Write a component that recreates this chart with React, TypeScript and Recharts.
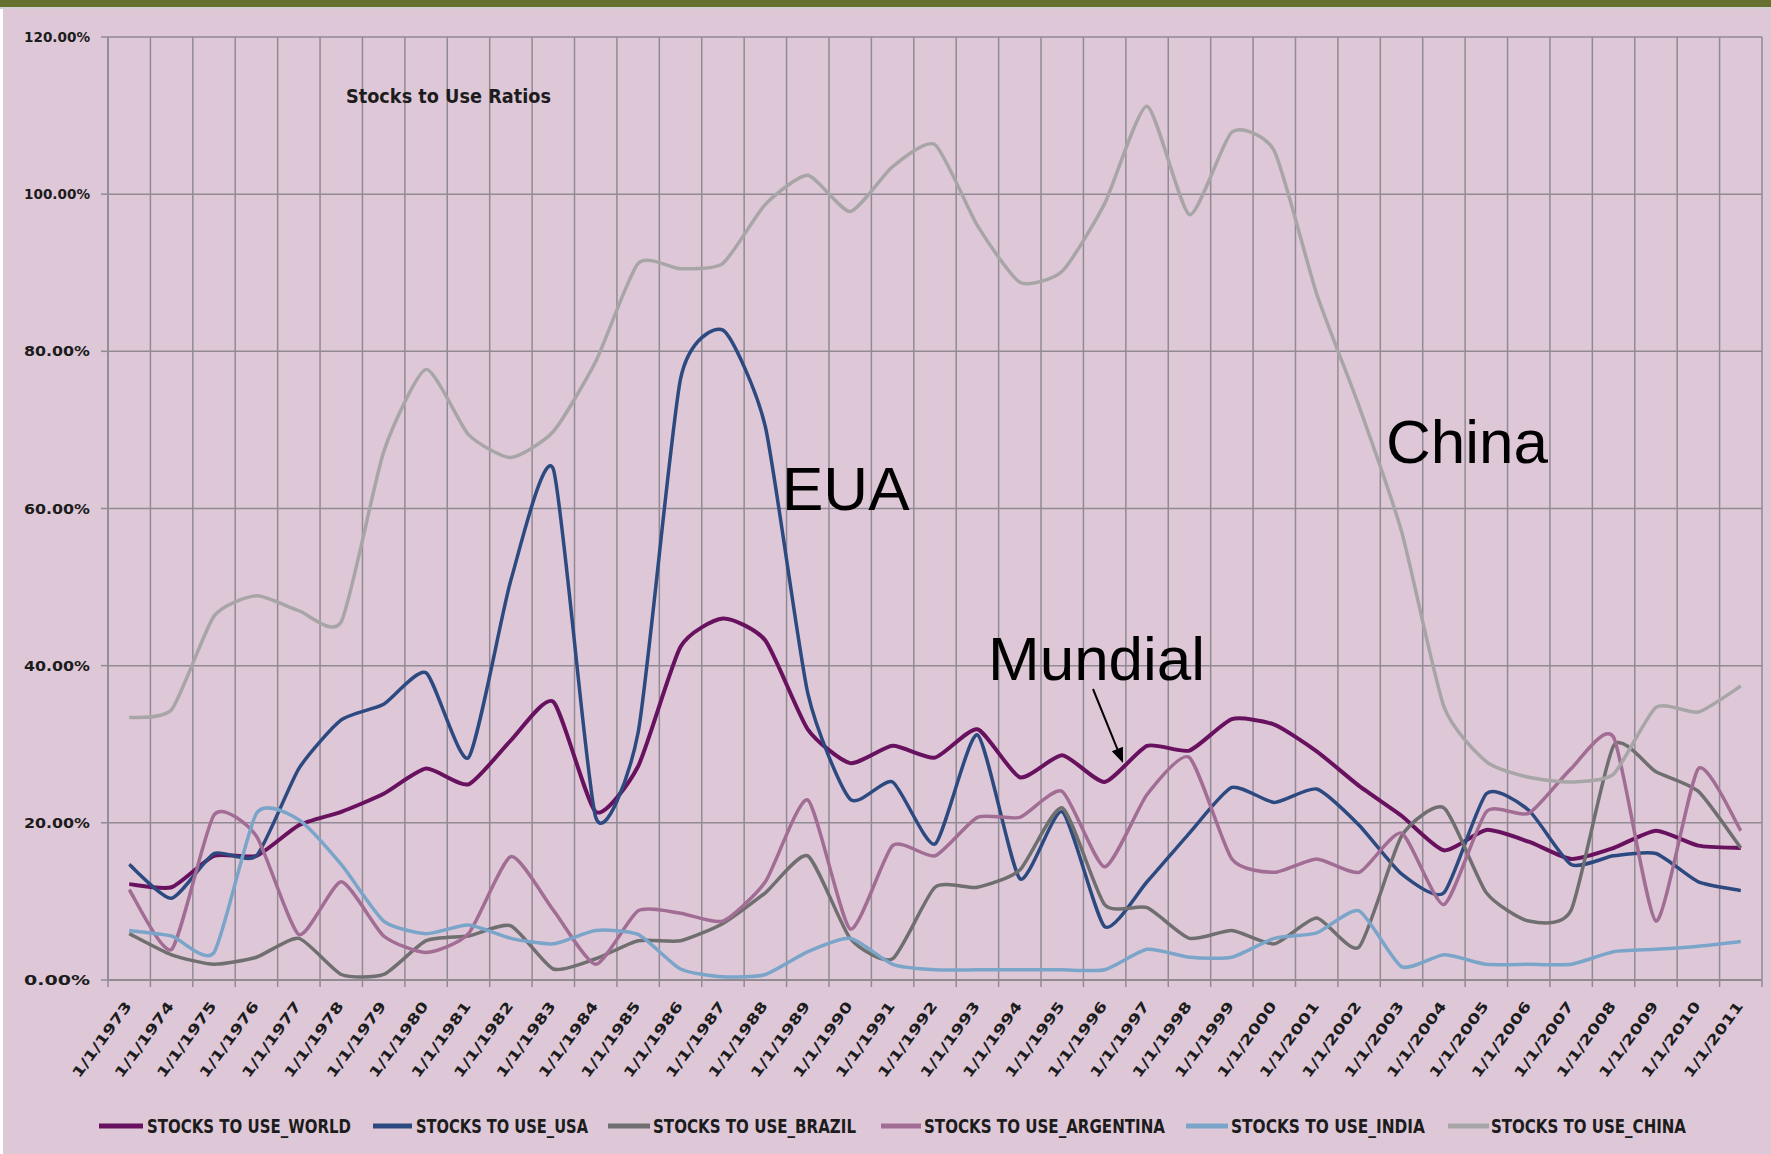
import React from 'react';
import { LineChart, Line, XAxis, YAxis, CartesianGrid } from 'recharts';

// ---------- data ----------
const years = [
  '1973', '1974', '1975', '1976', '1977', '1978', '1979', '1980', '1981', '1982',
  '1983', '1984', '1985', '1986', '1987', '1988', '1989', '1990', '1991', '1992',
  '1993', '1994', '1995', '1996', '1997', '1998', '1999', '2000', '2001', '2002',
  '2003', '2004', '2005', '2006', '2007', '2008', '2009', '2010', '2011',
];
const tickLabels = years.map((y) => `1/1/${y}`);

const world = [12.2, 11.8, 15.8, 15.8, 19.7, 21.4, 23.7, 26.9, 24.9, 30.5, 35.4, 21.4, 27.2, 42.4, 46.0, 43.2, 31.9, 27.6, 29.8, 28.3, 31.9, 25.8, 28.6, 25.2, 29.8, 29.2, 33.2, 32.5, 29.1, 24.7, 20.9, 16.5, 19.1, 17.6, 15.4, 16.8, 19.0, 17.1, 16.8];
const usa = [14.7, 10.4, 16.1, 15.8, 26.9, 33.1, 35.1, 39.1, 28.3, 50.9, 65.0, 20.7, 31.5, 76.5, 82.7, 70.4, 36.5, 23.0, 25.2, 17.3, 31.2, 12.9, 21.4, 6.8, 12.5, 18.7, 24.5, 22.6, 24.3, 19.7, 13.5, 11.1, 23.7, 21.6, 14.7, 15.8, 16.1, 12.5, 11.4];
const brazil = [5.9, 3.2, 2.0, 2.9, 5.3, 0.7, 0.7, 5.0, 5.6, 6.9, 1.4, 2.7, 5.0, 5.0, 7.2, 11.1, 15.8, 5.3, 2.7, 11.8, 11.8, 14.0, 21.9, 9.6, 9.2, 5.3, 6.3, 4.6, 7.9, 4.2, 18.3, 21.9, 11.1, 7.5, 8.9, 29.8, 26.5, 24.0, 16.8];
const argentina = [11.5, 3.9, 21.0, 18.3, 5.8, 12.5, 5.6, 3.5, 5.9, 15.7, 8.9, 2.0, 8.8, 8.5, 7.5, 12.5, 22.9, 6.5, 17.1, 15.8, 20.7, 20.7, 24.0, 14.4, 23.6, 28.3, 15.4, 13.7, 15.4, 13.7, 18.7, 9.6, 21.4, 21.2, 26.9, 30.9, 7.5, 26.9, 19.0];
const india = [6.3, 5.6, 3.5, 21.2, 20.4, 14.7, 7.5, 5.9, 7.0, 5.3, 4.6, 6.3, 5.8, 1.4, 0.4, 0.7, 3.6, 5.3, 2.0, 1.3, 1.3, 1.3, 1.3, 1.3, 3.9, 2.9, 2.9, 5.3, 6.0, 8.8, 1.7, 3.2, 2.0, 2.0, 2.0, 3.6, 3.9, 4.3, 4.9];
const china = [33.4, 34.4, 46.3, 48.9, 47.0, 45.6, 67.2, 77.7, 69.4, 66.5, 69.8, 78.7, 91.2, 90.5, 91.2, 98.7, 102.4, 97.8, 103.5, 106.3, 96.0, 88.8, 90.2, 98.8, 111.2, 97.4, 107.9, 105.5, 87.3, 73.0, 57.1, 34.8, 27.8, 25.8, 25.2, 26.2, 34.7, 34.1, 37.4];

const yTicks = [0, 20, 40, 60, 80, 100, 120];

const seriesNames = [
  'STOCKS TO USE_WORLD',
  'STOCKS TO USE_USA',
  'STOCKS TO USE_BRAZIL',
  'STOCKS TO USE_ARGENTINA',
  'STOCKS TO USE_INDIA',
  'STOCKS TO USE_CHINA',
];
const seriesKeys = ['world', 'usa', 'brazil', 'argentina', 'india', 'china'];
const seriesValues = [world, usa, brazil, argentina, india, china];

// ---------- styles / layout ----------
const W = 1771;
const H = 1154;
const PLOT_LEFT = 108;
const PLOT_RIGHT = 1762;
const PLOT_TOP = 37;
const PLOT_BOTTOM = 980;
const BAND = (PLOT_RIGHT - PLOT_LEFT) / years.length;
const BG = '#dec8d8';
const GRID = '#918a93';
const TEXT = '#1c1c1c';
const FONT = '"DejaVu Sans", "Open Sans", sans-serif';
const SMOOTH = 10;

const seriesColors = ['#68125f', '#2d4a80', '#6f6f6f', '#a26d94', '#7aa5c9', '#a8a5a7'];
const seriesWidths = [4, 3.5, 3.5, 3.5, 3.5, 3.5];

// legend layout: [lineStart, lineEnd, textStart, textWidth]
const legendLayout = [
  [99, 143, 147, 204],
  [373, 412, 416, 172],
  [608, 650, 653, 203],
  [881, 921, 924, 241],
  [1186, 1228, 1231, 194],
  [1448, 1489, 1491, 195],
];
const LEGEND_Y = 1126;

const data = years.map((y, i) => {
  const row: any = { idx: i, label: tickLabels[i] };
  seriesKeys.forEach((k, s) => {
    row[k] = seriesValues[s][i];
  });
  return row;
});

// lightly smoothed line (Catmull-Rom style cubic Bezier segments, reduced tension)
function smoothCurve(context: any) {
  let pts: Array<[number, number]> = [];
  return {
    areaStart() {},
    areaEnd() {},
    lineStart() {
      pts = [];
    },
    lineEnd() {
      const n = pts.length;
      if (n === 0) return;
      context.moveTo(pts[0][0], pts[0][1]);
      for (let i = 0; i < n - 1; i++) {
        const p0 = pts[Math.max(0, i - 1)];
        const p1 = pts[i];
        const p2 = pts[i + 1];
        const p3 = pts[Math.min(n - 1, i + 2)];
        const c1x = p1[0] + (p2[0] - p0[0]) / SMOOTH;
        const c1y = p1[1] + (p2[1] - p0[1]) / SMOOTH;
        const c2x = p2[0] - (p3[0] - p1[0]) / SMOOTH;
        const c2y = p2[1] - (p3[1] - p1[1]) / SMOOTH;
        context.bezierCurveTo(c1x, c1y, c2x, c2y, p2[0], p2[1]);
      }
    },
    point(x: number, y: number) {
      pts.push([+x, +y]);
    },
  };
}

function XTick(props: any) {
  const { x, y, payload } = props;
  const i = payload.value as number;
  const hb = BAND / 2;
  return (
    <g>
      <line x1={x - hb} x2={x - hb} y1={y} y2={y + 7} stroke={GRID} strokeWidth={1.5} />
      {i === years.length - 1 && (
        <line x1={x + hb} x2={x + hb} y1={y} y2={y + 7} stroke={GRID} strokeWidth={1.5} />
      )}
      <text
        transform={`translate(${x + 3},${y + 26}) rotate(-54)`}
        textAnchor="end"
        fontFamily={FONT}
        fontWeight="bold"
        fontSize={14}
        fill={TEXT}
        textLength={90}
        lengthAdjust="spacingAndGlyphs"
      >
        {tickLabels[i]}
      </text>
    </g>
  );
}

function YTick(props: any) {
  const { x, y, payload } = props;
  return (
    <text
      x={x}
      y={y}
      dy={5}
      textAnchor="end"
      fontFamily={FONT}
      fontWeight="bold"
      fontSize={14}
      fill={TEXT}
      textLength={66}
      lengthAdjust="spacingAndGlyphs"
    >
      {`${Number(payload.value).toFixed(2)}%`}
    </text>
  );
}

function Arrow({ x1, y1, x2, y2 }: { x1: number; y1: number; x2: number; y2: number }) {
  const dx = x2 - x1;
  const dy = y2 - y1;
  const len = Math.sqrt(dx * dx + dy * dy);
  const ux = dx / len;
  const uy = dy / len;
  const hl = 15;
  const hw = 6;
  const bx = x2 - ux * hl;
  const by = y2 - uy * hl;
  const pts = `${x2},${y2} ${bx - uy * hw},${by + ux * hw} ${bx + uy * hw},${by - ux * hw}`;
  return (
    <g>
      <line x1={x1} y1={y1} x2={bx} y2={by} stroke="#000" strokeWidth={2} />
      <polygon points={pts} fill="#000" />
    </g>
  );
}

export default function App() {
  return (
    <div style={{ position: 'absolute', left: 0, top: 0, width: W, height: H, background: BG, overflow: 'hidden' }}>
      <div style={{ position: 'absolute', left: 0, top: 0, width: W, height: 7, background: '#66712f' }} />
      <div style={{ position: 'absolute', left: 0, top: 7, width: W, height: 2, background: '#d4cfd2' }} />
      <div style={{ position: 'absolute', left: 0, top: 9, width: 3, height: H - 9, background: '#ffffff' }} />
      <div style={{ position: 'absolute', left: 0, top: 0 }}>
        <LineChart
          width={W}
          height={H}
          data={data}
          margin={{ top: PLOT_TOP, right: W - PLOT_RIGHT, bottom: 0, left: 0 }}
        >
          <CartesianGrid
            stroke={GRID}
            strokeWidth={1.5}
            verticalCoordinatesGenerator={({ offset }: any) =>
              Array.from({ length: years.length + 1 }, (_, k) => offset.left + (k * offset.width) / years.length)
            }
          />
          <XAxis
            type="number"
            dataKey="idx"
            domain={[-0.5, years.length - 0.5]}
            ticks={years.map((_, i) => i)}
            interval={0}
            height={H - PLOT_BOTTOM}
            tickLine={false}
            tickSize={0}
            tickMargin={0}
            axisLine={{ stroke: GRID, strokeWidth: 2 }}
            tick={<XTick />}
          />
          <YAxis
            type="number"
            domain={[0, 120]}
            ticks={yTicks}
            interval={0}
            width={PLOT_LEFT}
            tickSize={7}
            tickMargin={11}
            tickLine={{ stroke: GRID, strokeWidth: 1.5 }}
            axisLine={{ stroke: GRID, strokeWidth: 1.5 }}
            tick={<YTick />}
          />
          {seriesKeys.map((k, s) => (
            <Line
              key={k}
              type={smoothCurve as any}
              dataKey={k}
              name={seriesNames[s]}
              stroke={seriesColors[s]}
              strokeWidth={seriesWidths[s]}
              dot={false}
              activeDot={false}
              isAnimationActive={false}
            />
          ))}
        </LineChart>
      </div>
      <svg
        width={W}
        height={H}
        style={{ position: 'absolute', left: 0, top: 0, pointerEvents: 'none' }}
      >
        <text
          x={346}
          y={103}
          fontFamily={FONT}
          fontWeight="bold"
          fontSize={19}
          fill={TEXT}
          textLength={205}
          lengthAdjust="spacingAndGlyphs"
        >
          Stocks to Use Ratios
        </text>
        <text x={782} y={510} fontFamily='"Liberation Sans", Arial, sans-serif' fontSize={62} fill="#000">
          EUA
        </text>
        <text x={1386} y={463} fontFamily='"Liberation Sans", Arial, sans-serif' fontSize={62} fill="#000">
          China
        </text>
        <text x={988} y={680} fontFamily='"Liberation Sans", Arial, sans-serif' fontSize={62} fill="#000">
          Mundial
        </text>
        <Arrow x1={1093} y1={689} x2={1123} y2={763} />
        {seriesNames.map((name, s) => {
          const [l1, l2, tx, tw] = legendLayout[s];
          return (
            <g key={name}>
              <line x1={l1} x2={l2} y1={LEGEND_Y} y2={LEGEND_Y} stroke={seriesColors[s]} strokeWidth={5} />
              <text
                x={tx}
                y={LEGEND_Y + 7}
                fontFamily={FONT}
                fontWeight="bold"
                fontSize={19}
                fill={TEXT}
                textLength={tw}
                lengthAdjust="spacingAndGlyphs"
              >
                {name}
              </text>
            </g>
          );
        })}
      </svg>
    </div>
  );
}
